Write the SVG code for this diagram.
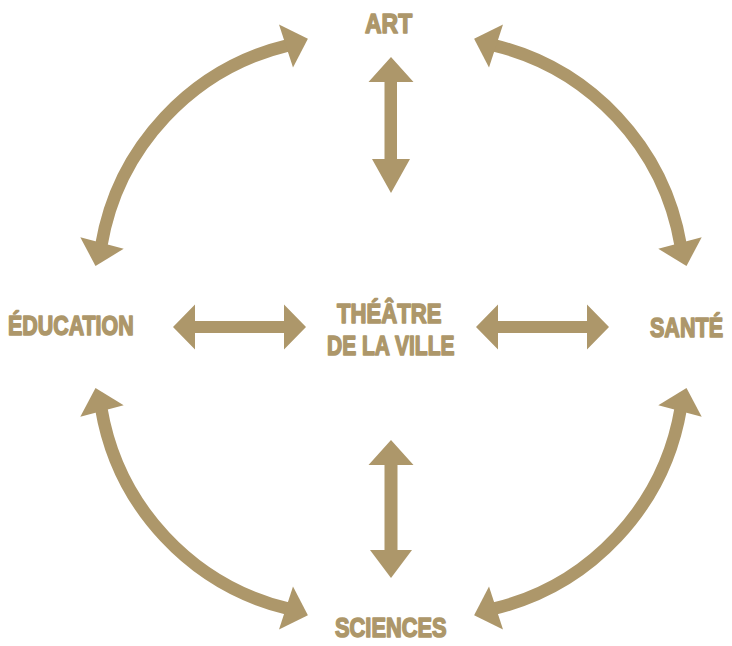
<svg xmlns="http://www.w3.org/2000/svg" width="732" height="646" viewBox="0 0 732 646">
  <style>
    .lbl { font-family: "Liberation Sans", Arial, sans-serif; font-weight: bold; font-size: 28px; fill: #AD976A; stroke: #AD976A; stroke-width: 1.6px; stroke-linejoin: round; }
    .shaft { fill: none; stroke: #AD976A; stroke-width: 12.5; stroke-linecap: butt; }
    .head { fill: #AD976A; }
  </style>
  <defs>
    <g id="arc">
      <path class="shaft" d="M 288.9 45.1 A 249 249 0 0 0 101.2 245.9"/>
      <polygon class="head" points="307.9,38.8 293.0,67.4 279.0,24.6"/>
      <polygon class="head" points="95.5,266 123.7,248.8 80.3,237.2"/>
    </g>
  </defs>
  <rect width="732" height="646" fill="#FFFFFF"/>

  <g id="connectors">
    <use id="arc-art-education" href="#arc"/>
    <use id="arc-art-sante" href="#arc" transform="translate(782,0) scale(-1,1)"/>
    <use id="arc-education-sciences" href="#arc" transform="translate(0,654) scale(1,-1)"/>
    <use id="arc-sante-sciences" href="#arc" transform="translate(782,654) scale(-1,-1)"/>
    <polygon id="arr-top" class="head" points="391,57 413.5,82 397,82 397,159 410,159 391,193 372,159 384.5,159 384.5,82 368.5,82"/>
    <polygon id="arr-bottom" class="head" points="391,440 413.5,465 397.5,465 397.5,550 412,550 391,578 370,550 384.5,550 384.5,465 368.5,465"/>
    <polygon id="arr-left" class="head" points="173,327 195,304.5 195,321 284,321 284,304.5 306,327 284,349.5 284,333 195,333 195,349.5"/>
    <polygon id="arr-right" class="head" points="476,327 498,304.5 498,321 587,321 587,304.5 609,327 587,349.5 587,333 498,333 498,349.5"/>
  </g>

  <g id="node-art">
    <text class="lbl" transform="translate(365,33) scale(0.82,1)">ART</text>
  </g>
  <g id="node-theatre">
    <text class="lbl" transform="translate(337,323) scale(0.79,1)">THÉÂTRE</text>
    <text class="lbl" transform="translate(327,355) scale(0.75,1)">DE LA VILLE</text>
  </g>
  <g id="node-education">
    <text class="lbl" transform="translate(8,335) scale(0.765,1)">ÉDUCATION</text>
  </g>
  <g id="node-sante">
    <text class="lbl" transform="translate(650,337) scale(0.77,1)">SANTÉ</text>
  </g>
  <g id="node-sciences">
    <text class="lbl" transform="translate(335,637) scale(0.78,1)">SCIENCES</text>
  </g>
</svg>
